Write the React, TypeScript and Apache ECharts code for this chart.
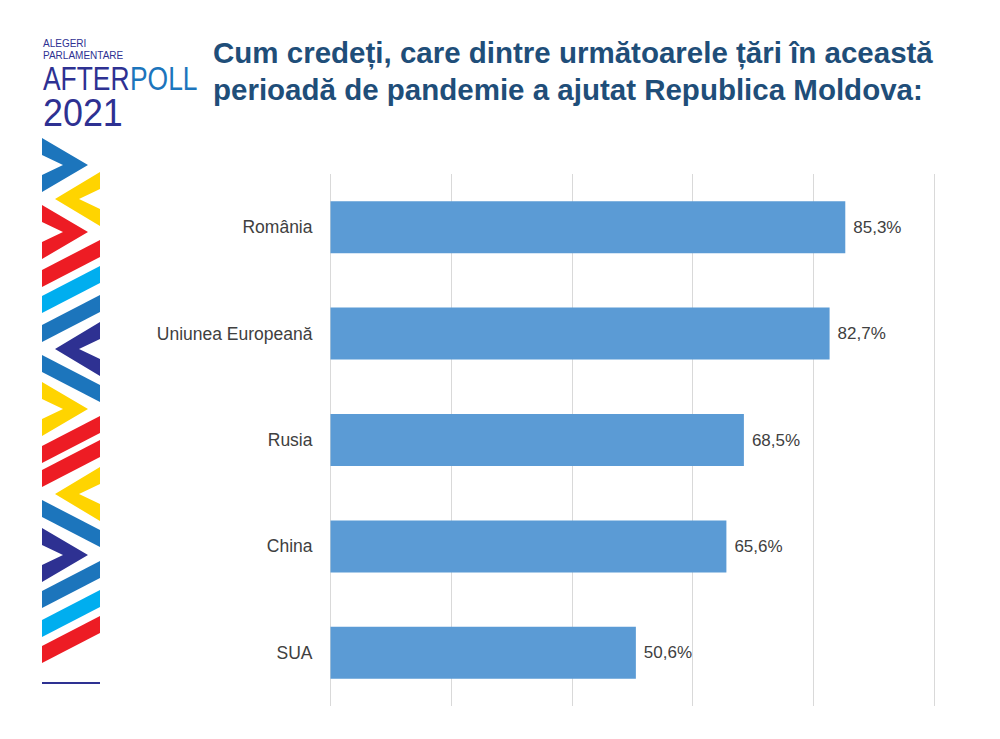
import { useEffect, useRef } from 'react';
import * as echarts from 'echarts';

// date
const countries = ['România', 'Uniunea Europeană', 'Rusia', 'China', 'SUA'];
const shares = [85.3, 82.7, 68.5, 65.6, 50.6];
const xTicks = [0, 20, 40, 60, 80, 100];

const titleLines = [
  'Cum credeți, care dintre următoarele țări în această',
  'perioadă de pandemie a ajutat Republica Moldova:',
];

const C = {
  blue: '#1c75bc',
  light: '#00aeef',
  navy: '#2e3192',
  red: '#ed1c24',
  yellow: '#ffd400',
};

// banda decorativa din stanga
const L = 42;
const R = 100;

const chevRight = (c: number, color: string) => ({
  type: 'polygon',
  shape: { points: [[L, c - 27], [88, c], [L, c + 27], [L, c + 10], [63, c], [L, c - 10]] },
  style: { fill: color },
});

const chevLeft = (c: number, color: string) => ({
  type: 'polygon',
  shape: { points: [[R, c - 27], [55, c], [R, c + 27], [R, c + 10], [79, c], [R, c - 10]] },
  style: { fill: color },
});

const up = (yb: number, color: string) => ({
  type: 'polygon',
  shape: { points: [[L, yb], [L, yb - 17], [R, yb - 47], [R, yb - 30]] },
  style: { fill: color },
});

const down = (yt: number, color: string) => ({
  type: 'polygon',
  shape: { points: [[L, yt], [R, yt + 30], [R, yt + 47], [L, yt + 17]] },
  style: { fill: color },
});

const decor = [
  chevRight(165, C.blue),
  chevLeft(199, C.yellow),
  chevRight(232, C.red),
  up(287, C.red),
  up(313, C.light),
  up(342, C.blue),
  chevLeft(349, C.navy),
  down(355, C.blue),
  chevRight(409, C.yellow),
  up(463, C.red),
  up(487, C.red),
  chevLeft(494, C.yellow),
  down(500, C.blue),
  chevRight(555, C.navy),
  up(608, C.blue),
  up(637, C.light),
  up(663, C.red),
  { type: 'rect', shape: { x: L, y: 682, width: R - L, height: 2 }, style: { fill: C.navy } },
];

const fmt = (v: number) => v.toFixed(1).replace('.', ',') + '%';

export default function App() {
  const ref = useRef<HTMLDivElement>(null);

  useEffect(() => {
    if (!ref.current) return;
    const chart = echarts.init(ref.current, null, { renderer: 'svg' });

    chart.setOption({
      animation: false,
      backgroundColor: '#ffffff',
      grid: { left: 330.5, top: 174, width: 603.5, height: 532, containLabel: false },
      xAxis: {
        type: 'value',
        min: xTicks[0],
        max: xTicks[xTicks.length - 1],
        interval: xTicks[1] - xTicks[0],
        axisLabel: { show: false },
        axisLine: { show: false },
        axisTick: { show: false },
        splitLine: { show: true, lineStyle: { color: '#d9d9d9', width: 1 } },
      },
      yAxis: {
        type: 'category',
        inverse: true,
        data: countries,
        axisLine: { show: false },
        axisTick: { show: false },
        axisLabel: {
          margin: 18,
          color: '#404040',
          fontSize: 17.5,
          fontFamily: 'Liberation Sans',
        },
      },
      series: [
        {
          type: 'bar',
          data: shares,
          barWidth: 52,
          itemStyle: { color: '#5b9bd5' },
          label: {
            show: true,
            position: 'right',
            distance: 8,
            color: '#404040',
            fontSize: 17,
            fontFamily: 'Liberation Sans',
            formatter: (p: any) => fmt(p.value),
          },
        },
      ],
      graphic: [
        ...titleLines.map((t, i) => ({
          type: 'text',
          x: 213,
          y: 52 + i * 37,
          style: {
            text: t,
            fill: '#1f4e79',
            font: 'bold 29.5px "Liberation Sans"',
            align: 'left',
            verticalAlign: 'middle',
          },
        })),
        {
          type: 'text', x: 43, y: 43,
          style: { text: 'ALEGERI', fill: C.navy, font: '10px "Liberation Sans"', verticalAlign: 'middle' },
        },
        {
          type: 'text', x: 43, y: 55,
          style: { text: 'PARLAMENTARE', fill: C.navy, font: '10px "Liberation Sans"', verticalAlign: 'middle' },
        },
        {
          type: 'text', x: 43, y: 78, scaleX: 0.8,
          style: { text: 'AFTER', fill: C.navy, font: '33px "Liberation Sans"', verticalAlign: 'middle' },
        },
        {
          type: 'text', x: 130, y: 78, scaleX: 0.8,
          style: { text: 'POLL', fill: C.blue, font: '33px "Liberation Sans"', verticalAlign: 'middle' },
        },
        {
          type: 'text', x: 43, y: 112, scaleX: 0.92,
          style: { text: '2021', fill: C.navy, font: '39px "Liberation Sans"', verticalAlign: 'middle' },
        },
        ...decor,
      ],
    });

    return () => chart.dispose();
  }, []);

  return (
    <div
      ref={ref}
      style={{ position: 'absolute', left: 0, top: 0, width: 1000, height: 739 }}
    />
  );
}
